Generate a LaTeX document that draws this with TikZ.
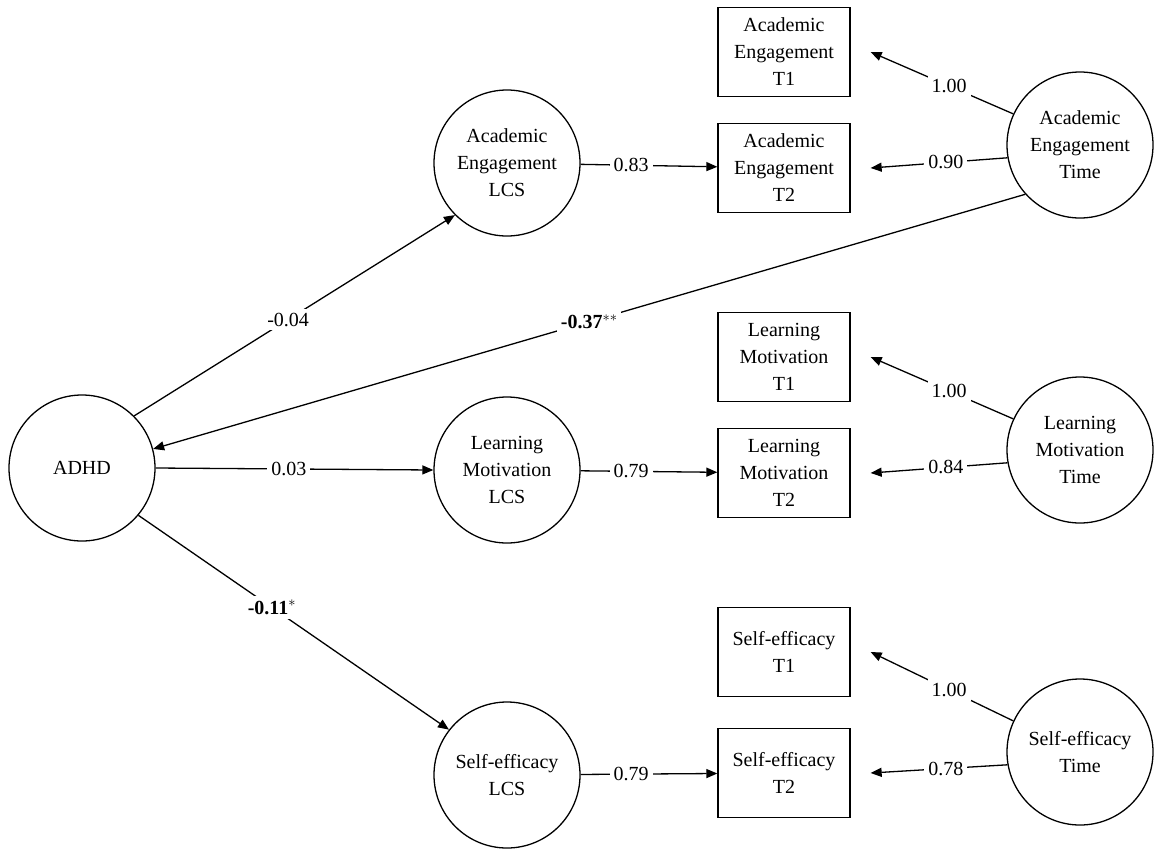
\documentclass[tikz,border=0pt]{standalone}
\usepackage{fontspec}
\setmainfont{Liberation Serif}
\usetikzlibrary{arrows.meta}
\begin{document}
\begin{tikzpicture}[x=1pt,y=-1pt,
  every node/.style={font=\fontsize{20}{27}\selectfont},
  circ/.style={circle,draw,line width=1.3pt,minimum size=146pt,inner sep=0pt,align=center},
  box/.style={rectangle,draw,line width=1.3pt,minimum width=132pt,minimum height=89pt,inner sep=0pt,align=center},
  arr/.style={line width=1.3pt,-{Triangle[length=11pt,width=9pt]}},
  lab/.style={fill=white,inner sep=4pt}]
\useasboundingbox (0,0) rectangle (1169,849);
\node[circ] (adhd) at (82,468) {ADHD};
\node[circ] (aelcs) at (507,163) {Academic\\Engagement\\LCS};
\node[circ] (lmlcs) at (507,470) {Learning\\Motivation\\LCS};
\node[circ] (selcs) at (507,775) {Self-efficacy\\LCS};
\node[circ] (aet) at (1080,145) {Academic\\Engagement\\Time};
\node[circ] (lmt) at (1080,450) {Learning\\Motivation\\Time};
\node[circ] (set) at (1080,752) {Self-efficacy\\Time};
\node[box] (ae1) at (784,52) {Academic\\Engagement\\T1};
\node[box] (ae2) at (784,168) {Academic\\Engagement\\T2};
\node[box] (lm1) at (784,357) {Learning\\Motivation\\T1};
\node[box] (lm2) at (784,473) {Learning\\Motivation\\T2};
\node[box] (se1) at (784,652) {Self-efficacy\\T1};
\node[box] (se2) at (784,773) {Self-efficacy\\T2};
% ADHD paths
\draw[arr] (adhd.45) -- node[lab,pos=0.48]{-0.04} (aelcs.225);
\draw[arr] (adhd.east) -- node[lab,pos=0.48]{0.03} (lmlcs.west);
\draw[arr] (adhd.-40) -- node[lab,pos=0.43]{\textbf{-0.11}$^{*}$} (selcs.142);
\draw[arr] (aet.222) -- node[lab,pos=0.5]{\textbf{-0.37}$^{**}$} (adhd.15);
% LCS -> T2
\draw[arr] (aelcs) -- node[lab,pos=0.37]{0.83} (ae2);
\draw[arr] (lmlcs) -- node[lab,pos=0.37]{0.79} (lm2);
\draw[arr] (selcs) -- node[lab,pos=0.37]{0.79} (se2);
% Time -> T1/T2
\draw[arr] (aet.155) -- node[lab,pos=0.45]{1.00} ([xshift=20pt]ae1.east);
\draw[arr] (aet.190) -- node[lab,pos=0.45]{0.90} ([xshift=20pt]ae2.east);
\draw[arr] (lmt.155) -- node[lab,pos=0.45]{1.00} ([xshift=20pt]lm1.east);
\draw[arr] (lmt.190) -- node[lab,pos=0.45]{0.84} ([xshift=20pt]lm2.east);
\draw[arr] (set.155) -- node[lab,pos=0.45]{1.00} ([xshift=20pt]se1.east);
\draw[arr] (set.190) -- node[lab,pos=0.45]{0.78} ([xshift=20pt]se2.east);
\end{tikzpicture}
\end{document}
